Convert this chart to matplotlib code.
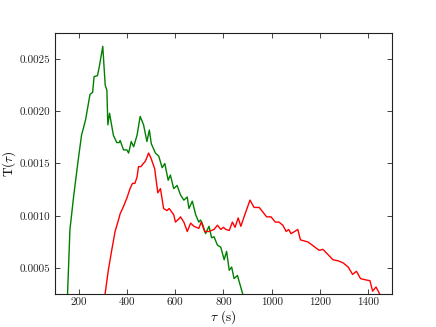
import matplotlib
matplotlib.use("Agg")
import matplotlib.pyplot as plt

green_x = [150, 154, 164, 180, 198, 212, 229, 247, 258, 264, 278, 286, 300, 310, 317, 321, 328,
           344, 358, 368, 372, 386, 400, 407, 418, 428, 442, 455, 469, 483, 493, 501, 518, 532,
           546, 557, 571, 580, 594, 608, 622, 636, 650, 657, 671, 685, 698, 705, 712, 726, 740,
           751, 761, 775, 789, 803, 813, 824, 834, 844, 858, 869, 879, 885]
green_y = [0.00020, 0.00025, 0.00087, 0.00120, 0.00153, 0.00177, 0.00192, 0.00216, 0.00218,
           0.00233, 0.00234, 0.00243, 0.00262, 0.00225, 0.00220, 0.00187, 0.00198, 0.00177,
           0.00170, 0.00170, 0.00172, 0.00163, 0.00163, 0.00160, 0.00171, 0.00166, 0.00177,
           0.00195, 0.00187, 0.00171, 0.00182, 0.00169, 0.00160, 0.00157, 0.00146, 0.00150,
           0.00134, 0.00139, 0.00126, 0.00129, 0.00120, 0.00115, 0.00118, 0.00107, 0.00114,
           0.00101, 0.00094, 0.00096, 0.00093, 0.00083, 0.00090, 0.00079, 0.00080, 0.00072,
           0.00070, 0.00058, 0.00066, 0.00048, 0.00051, 0.00040, 0.00043, 0.00034, 0.00026,
           0.00020]

red_x = [305, 310, 323, 337, 351, 365, 372, 386, 400, 413, 423, 433, 442, 448, 458, 468, 476,
         490, 500, 515, 528, 539, 552, 566, 575, 594, 601, 615, 622, 636, 650, 664, 678, 698,
         708, 722, 740, 761, 775, 789, 800, 810, 824, 837, 848, 861, 872, 893, 910, 927, 948,
         962, 979, 997, 1015, 1030, 1046, 1060, 1070, 1080, 1095, 1108, 1119, 1135, 1150,
         1168, 1185, 1197, 1212, 1233, 1254, 1275, 1296, 1317, 1335, 1351, 1368, 1385, 1407,
         1418, 1432, 1448, 1455]
red_y = [0.00020, 0.00026, 0.00048, 0.00067, 0.00085, 0.00096, 0.00102, 0.00109, 0.00117,
         0.00126, 0.00131, 0.00131, 0.00137, 0.00147, 0.00147, 0.00150, 0.00152, 0.00160,
         0.00155, 0.00145, 0.00122, 0.00126, 0.00107, 0.00105, 0.00107, 0.00101, 0.00094,
         0.00097, 0.00099, 0.00094, 0.00085, 0.00093, 0.00090, 0.00088, 0.00094, 0.00085,
         0.00085, 0.00087, 0.00091, 0.00087, 0.00089, 0.00087, 0.00086, 0.00094, 0.00089,
         0.00098, 0.00090, 0.00104, 0.00115, 0.00108, 0.00108, 0.00104, 0.00099, 0.00099,
         0.00094, 0.00094, 0.00091, 0.00085, 0.00087, 0.00083, 0.00085, 0.00087, 0.00077,
         0.00076, 0.00075, 0.00072, 0.00069, 0.00067, 0.00068, 0.00063, 0.00058, 0.00057,
         0.00055, 0.00051, 0.00044, 0.00047, 0.00040, 0.00039, 0.00038, 0.00028, 0.00032,
         0.00025, 0.00020]

x_ticks = [200, 400, 600, 800, 1000, 1200, 1400]
y_ticks = [0.0005, 0.0010, 0.0015, 0.0020, 0.0025]
y_tick_labels = ["0.0005", "0.0010", "0.0015", "0.0020", "0.0025"]

plt.rcParams['font.family'] = 'serif'
plt.rcParams['font.serif'] = ['cmr10', 'DejaVu Serif']
plt.rcParams['mathtext.fontset'] = 'cm'
plt.rcParams['axes.formatter.use_mathtext'] = True
plt.rcParams['axes.unicode_minus'] = False

fig = plt.figure(figsize=(4.36, 3.27), dpi=100)
ax = fig.add_axes([0.125, 0.1, 0.775, 0.8])
ax.plot(green_x, green_y, color='#008000', lw=1.0)
ax.plot(red_x, red_y, color='#ff0000', lw=1.0)
ax.set_xlim(100, 1500)
ax.set_ylim(0.00025, 0.00275)
ax.set_xticks(x_ticks)
ax.set_xticklabels([str(v) for v in x_ticks])
ax.set_yticks(y_ticks)
ax.set_yticklabels(y_tick_labels)
ax.tick_params(direction='in', top=True, right=True, length=3.5, width=0.6,
               labelsize=8.0, colors='#222222', labelcolor='#222222')
ax.tick_params(axis='x', pad=2.5)
ax.tick_params(axis='y', pad=3)
for s in ax.spines.values():
    s.set_linewidth(0.8)
    s.set_color('#222222')
ax.set_xlabel(r'$\tau$ (s)', fontsize=9.5, labelpad=1)
ax.set_ylabel(r'T($\tau$)', fontsize=9.5, labelpad=1.5)
fig.savefig('out.png', dpi=100)
